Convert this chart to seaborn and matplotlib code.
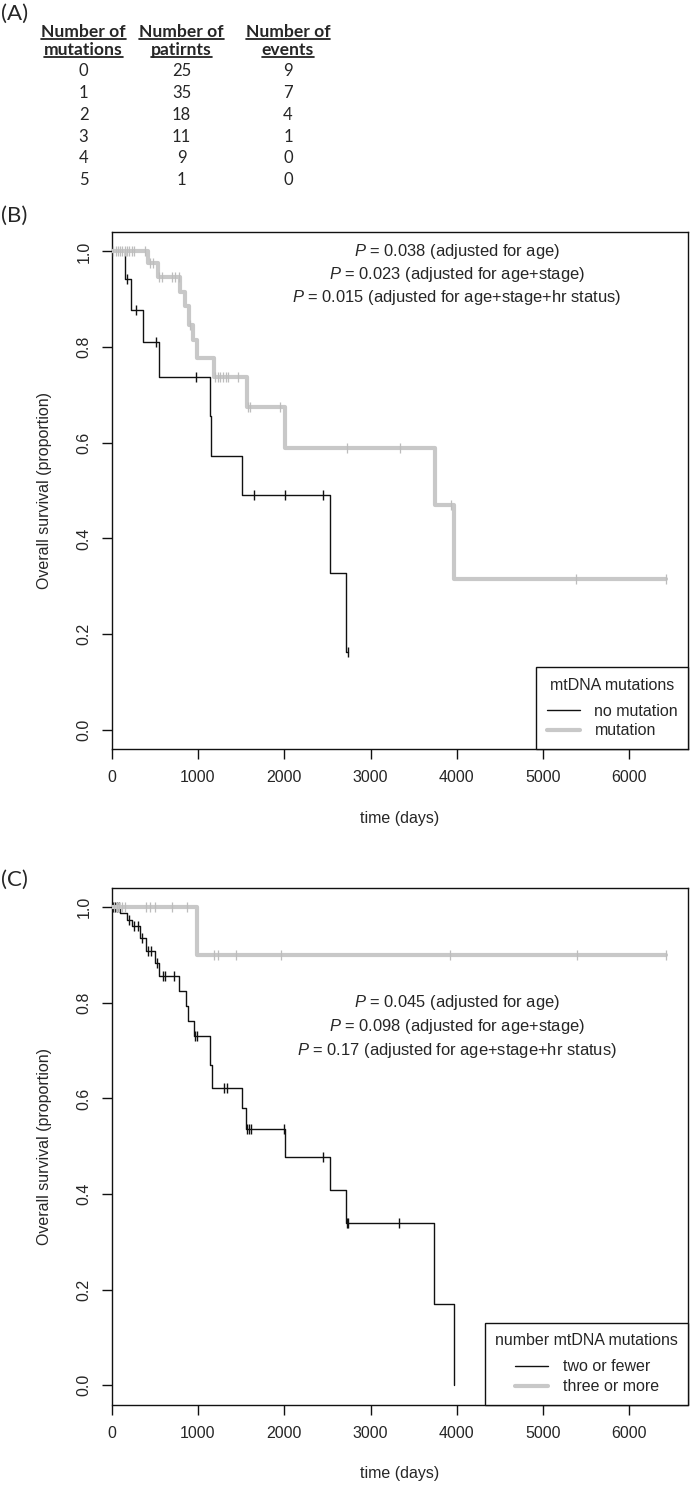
import numpy as np
import pandas as pd
import matplotlib
matplotlib.use('Agg')
import matplotlib.pyplot as plt
from matplotlib.lines import Line2D
import seaborn as sns

# ---- (A) table ----
table_headers = [('Number of', 'mutations'), ('Number of', 'patirnts'), ('Number of', 'events')]
n_mutations = ['0', '1', '2', '3', '4', '5']
n_patients = ['25', '35', '18', '11', '9', '1']
n_events = ['9', '7', '4', '1', '0', '0']

# ---- (B) no mutation vs mutation ----
b_none_time = [0, 155, 221, 360, 550, 1143, 1152, 1512, 2535, 2711, 2743]
b_none_surv = [1.0, 0.942, 0.878, 0.810, 0.738, 0.655, 0.573, 0.491, 0.327, 0.163, 0.163]
b_none_cens = [180, 283, 518, 977, 1647, 2004, 2453, 2743]

b_mut_time = [0, 426, 531, 795, 853, 891, 946, 985, 1180, 1564, 2006, 3743, 3968, 6427]
b_mut_surv = [1.0, 0.976, 0.946, 0.916, 0.885, 0.847, 0.815, 0.777, 0.738, 0.674, 0.590, 0.470, 0.315, 0.315]
b_mut_cens = [20, 45, 70, 95, 120, 150, 175, 200, 230, 255, 387, 445, 480, 550, 580, 700, 735,
              780, 910, 1200, 1230, 1260, 1290, 1320, 1350, 1467, 1580, 1600, 1950, 2723, 3337,
              3929, 5382, 6427]

b_pvals = ['0.038 (adjusted for age)', '0.023 (adjusted for age+stage)',
           '0.015 (adjusted for age+stage+hr status)']
b_pval_y = [1.0, 0.952, 0.903]
b_legend_title = 'mtDNA mutations'
b_labels = ['no mutation', 'mutation']

# ---- (C) two or fewer vs three or more ----
c_low_time = [0, 100, 180, 230, 330, 400, 500, 545, 783, 861, 880, 957, 1139, 1165, 1513,
              1552, 2010, 2530, 2713, 3738, 3963]
c_low_surv = [1.0, 0.987, 0.974, 0.961, 0.935, 0.909, 0.883, 0.856, 0.825, 0.793, 0.761,
              0.730, 0.670, 0.621, 0.579, 0.537, 0.478, 0.409, 0.340, 0.170, 0.0]
c_low_cens = [20, 40, 60, 80, 200, 260, 300, 350, 420, 450, 520, 600, 620, 720, 963, 987,
              1300, 1333, 1564, 1590, 1611, 2000, 2445, 2723, 2742, 3329]

c_high_time = [0, 990, 6427]
c_high_surv = [1.0, 0.9, 0.9]
c_high_cens = [30, 60, 90, 120, 150, 400, 440, 500, 700, 870, 1190, 1230, 1440, 1960,
               3920, 5390, 6427]

c_pvals = ['0.045 (adjusted for age)', '0.098 (adjusted for age+stage)',
           '0.17 (adjusted for age+stage+hr status)']
c_pval_y = [0.80, 0.75, 0.70]
c_legend_title = 'number mtDNA mutations'
c_labels = ['two or fewer', 'three or more']

x_ticks = [0, 1000, 2000, 3000, 4000, 5000, 6000]
y_ticks = [0.0, 0.2, 0.4, 0.6, 0.8, 1.0]

# ---- style ----
sns.set_style('white')
plt.rcParams['font.family'] = ['Liberation Sans', 'DejaVu Sans']
plt.rcParams['mathtext.fontset'] = 'custom'
plt.rcParams['mathtext.rm'] = 'Liberation Sans'
plt.rcParams['mathtext.it'] = 'Liberation Sans:italic'
FS = 11.5
BLACK = '#111111'
GREY = '#c8c8c8'


def km_frame(times, surv):
    return pd.DataFrame({'time': times, 'surv': surv})


def censor_frame(cens, times, surv):
    times = np.asarray(times)
    surv = np.asarray(surv)
    idx = np.searchsorted(times, cens, side='right') - 1
    return pd.DataFrame({'time': cens, 'surv': surv[idx]})


def draw_panel(ax, low, high, pvals, pval_y, title, labels):
    t1, s1, c1 = low
    t2, s2, c2 = high
    sns.lineplot(data=km_frame(t1, s1), x='time', y='surv', ax=ax, color=BLACK,
                 linewidth=1.0, drawstyle='steps-post', estimator=None, sort=False)
    sns.scatterplot(data=censor_frame(c1, t1, s1), x='time', y='surv', ax=ax,
                    marker='|', color=BLACK, s=60, linewidth=1.0, zorder=3)
    sns.lineplot(data=km_frame(t2, s2), x='time', y='surv', ax=ax, color=GREY,
                 linewidth=3.0, drawstyle='steps-post', estimator=None, sort=False, zorder=4)
    sns.scatterplot(data=censor_frame(c2, t2, s2), x='time', y='surv', ax=ax,
                    marker='|', color='#bdbdbd', s=55, linewidth=0.9, zorder=5)

    for txt, yv in zip(pvals, pval_y):
        ax.text(4000, yv, r'$\it{P}$ = ' + txt, ha='center', va='center', fontsize=11.9)

    ax.set_xlim(0, 6684)
    ax.set_ylim(-0.04, 1.04)
    ax.set_xticks(x_ticks)
    ax.set_xticklabels([str(v) for v in x_ticks])
    ax.set_yticks(y_ticks)
    ax.set_yticklabels([f'{v:.1f}' for v in y_ticks], rotation=90, va='center')
    ax.tick_params(axis='x', length=7.5, width=1.0, pad=8, labelsize=FS, color=BLACK)
    ax.tick_params(axis='y', length=7.5, width=1.0, pad=7, labelsize=FS, color=BLACK)
    ax.tick_params(left=True, bottom=True)
    for sp in ax.spines.values():
        sp.set_visible(True)
        sp.set_linewidth(1.0)
        sp.set_color(BLACK)
    ax.set_xlabel('time (days)', fontsize=FS)
    ax.set_ylabel('Overall survival (proportion)', fontsize=FS)
    ax.xaxis.set_label_coords(0.5, -0.12)
    ax.yaxis.set_label_coords(-0.104, 0.5)
    ax.xaxis.label.set_va('top')

    handles = [Line2D([], [], color=BLACK, lw=1.0), Line2D([], [], color=GREY, lw=3.0)]
    leg = ax.legend(handles, labels, title=title, loc='lower right', borderaxespad=0,
                    fontsize=FS, title_fontsize=FS, fancybox=False, framealpha=1,
                    edgecolor=BLACK, handlelength=2.1, handletextpad=0.9,
                    labelspacing=0.3, borderpad=0.65)
    leg._legend_box.sep = 8
    leg.get_frame().set_linewidth(1.0)
    leg.set_zorder(6)


W, H = 690, 1485
fig = plt.figure(figsize=(W / 100, H / 100), dpi=100)

ax_b = fig.add_axes([111.7 / W, 1 - 748.8 / H, 576.8 / W, 516.5 / H])
ax_c = fig.add_axes([111.7 / W, 1 - 1404.5 / H, 576.8 / W, 516.5 / H])

draw_panel(ax_b, (b_none_time, b_none_surv, b_none_cens),
           (b_mut_time, b_mut_surv, b_mut_cens), b_pvals, b_pval_y, b_legend_title, b_labels)
draw_panel(ax_c, (c_low_time, c_low_surv, c_low_cens),
           (c_high_time, c_high_surv, c_high_cens), c_pvals, c_pval_y, c_legend_title, c_labels)

# panel letters
for lab, ypx in [('(A)', 14), ('(B)', 216), ('(C)', 880)]:
    fig.text(1 / W, 1 - ypx / H, lab, fontsize=16, family=['Lato', 'DejaVu Sans'],
             ha='left', va='center')

# table
col_x = [83.5, 181.5, 288.0]
head_y = [31.7, 50.0]
row_y = [71, 92.7, 115, 136.7, 158.3, 180]
head_texts = []
for cx, pair in zip(col_x, table_headers):
    for hy, line in zip(head_y, pair):
        t = fig.text(cx / W, 1 - hy / H, line, fontsize=12.6, fontweight='bold',
                     family=['Lato', 'DejaVu Sans'], ha='center', va='center')
        head_texts.append((t, hy))
for cx, col in zip(col_x, [n_mutations, n_patients, n_events]):
    for ry, val in zip(row_y, col):
        fig.text(cx / W, 1 - ry / H, val, fontsize=12, family=['Lato', 'DejaVu Sans'],
                 ha='center', va='center')

fig.canvas.draw()
renderer = fig.canvas.get_renderer()
for t, hy in head_texts:
    bb = t.get_window_extent(renderer)
    yl = 1 - (hy + 7) / H
    fig.add_artist(Line2D([bb.x0 / W, bb.x1 / W], [yl, yl], color=BLACK, lw=1.2,
                          transform=fig.transFigure))

fig.savefig('out.png', dpi=100)
